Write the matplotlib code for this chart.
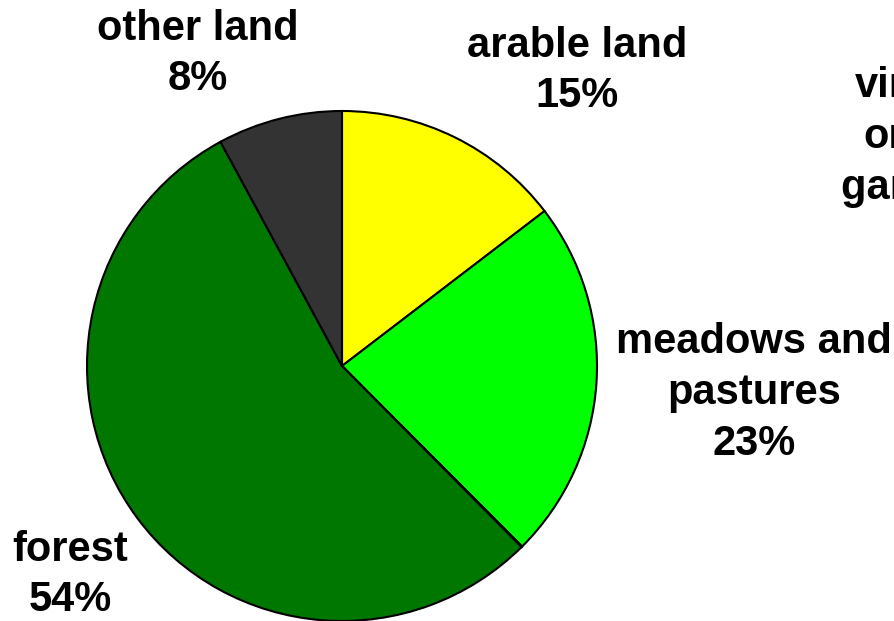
import matplotlib

matplotlib.use("Agg")
import matplotlib.pyplot as plt

# land use shares (percent), clockwise from 12 o'clock
categories = ["arable land", "meadows and\npastures", "vineyards,\norchards,\ngardens", "forest", "other land"]
shares = [14.6, 22.9, 0.05, 54.5, 7.9]
label_pct = ["\n15%", "\n23%", " 0%", "\n54%", "\n8%"]
colors = ["#FFFF00", "#00FF00", "#800080", "#007700", "#333333"]

# label centres in pixel coordinates (x, y from top)
label_pos = [(577, 71), (754, 393), (958, 137), (70, 575), (198, 54)]

W, H = 895, 621
fig = plt.figure(figsize=(W / 100, H / 100), dpi=100)
ax = fig.add_axes([0, 0, 1, 1])
ax.pie(
    shares,
    colors=colors,
    startangle=90,
    counterclock=False,
    center=(342, H - 366),
    radius=255,
    wedgeprops=dict(edgecolor="black", linewidth=1.5),
    frame=True,
)
ax.set_xlim(0, W)
ax.set_ylim(0, H)
ax.set_aspect("equal")
ax.axis("off")

for name, pct, (x, y) in zip(categories, label_pct, label_pos):
    ax.text(x, H - y, name + pct, ha="center", va="center", fontsize=30,
            fontweight="bold", family=["Liberation Sans", "DejaVu Sans"],
            linespacing=1.35, color="black", clip_on=False)

fig.savefig("out.png", dpi=100)
